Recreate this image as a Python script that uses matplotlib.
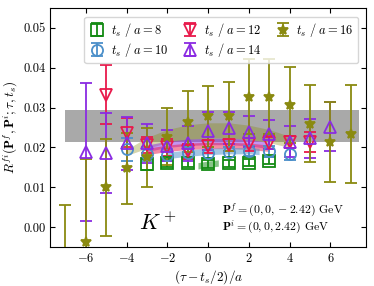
import matplotlib
matplotlib.use('Agg')
import matplotlib.pyplot as plt
import numpy as np

plt.rcParams['font.family'] = 'serif'
plt.rcParams['font.serif'] = ['cmr10']
plt.rcParams['mathtext.fontset'] = 'cm'
plt.rcParams['axes.unicode_minus'] = False
plt.rcParams['axes.formatter.use_mathtext'] = True

# data points per source-sink separation
x8 = [-3, -2, -1, 0, 1, 2, 3]
y8 = [0.0158, 0.0161, 0.0160, 0.0158, 0.0160, 0.0162, 0.0167]
e8 = [0.0014, 0.0010, 0.0010, 0.0010, 0.0009, 0.0009, 0.0009]

x10 = [-4, -3, -2, -1, 0, 1, 2, 3, 4]
y10 = [0.0195, 0.0183, 0.0181, 0.0186, 0.0187, 0.0188, 0.0191, 0.0190, 0.0183]
e10 = [0.0030, 0.0017, 0.0015, 0.0014, 0.0013, 0.0013, 0.0013, 0.0013, 0.0015]

x12 = [-5, -4, -3, -2, -1, 0, 1, 2, 3, 4, 5]
y12 = [0.0332, 0.0237, 0.0206, 0.0200, 0.0190, 0.0203, 0.0206, 0.0208, 0.0212, 0.0213, 0.0214]
e12 = [0.0074, 0.0037, 0.0020, 0.0022, 0.0018, 0.0016, 0.0016, 0.0016, 0.0016, 0.0015, 0.0025]

x14 = [-6, -5, -4, -3, -2, -1, 0, 1, 2, 3, 4, 5, 6]
y14 = [0.0188, 0.0187, 0.0210, 0.0210, 0.0204, 0.0210, 0.0241, 0.0248, 0.0239, 0.0233, 0.0214, 0.0223, 0.0252]
e14 = [0.0173, 0.0100, 0.0067, 0.0048, 0.0039, 0.0043, 0.0047, 0.0040, 0.0039, 0.0037, 0.0039, 0.0049, 0.0061]

x16 = [-7, -6, -5, -4, -3, -2, -1, 0, 1, 2, 3, 4, 5, 6, 7]
y16 = [-0.0080, -0.0037, 0.0100, 0.0148, 0.0175, 0.0227, 0.0265, 0.0278, 0.0278, 0.0327, 0.0327, 0.0306, 0.0260, 0.0213, 0.0234]
e16 = [0.0136, 0.0207, 0.0121, 0.0089, 0.0075, 0.0072, 0.0076, 0.0076, 0.0087, 0.0094, 0.0094, 0.0095, 0.0096, 0.0100, 0.0122]

# fit bands
bx16 = [-4, -3, -2, -1, 0, 1, 2, 3, 4]
bup16 = [0.0195, 0.0225, 0.0245, 0.0257, 0.0262, 0.0262, 0.0256, 0.0245, 0.0228]
blo16 = [0.0180, 0.0198, 0.0212, 0.0220, 0.0224, 0.0224, 0.0220, 0.0212, 0.0200]

bx14 = [-3, -2, -1, 0, 1, 2, 3]
bc14 = [0.0198, 0.0208, 0.0213, 0.0215, 0.0215, 0.0212, 0.0205]
bx12 = [-3, -2, -1, 0, 1, 2, 3]
bc12 = [0.0190, 0.0198, 0.0203, 0.0205, 0.0205, 0.0203, 0.0198]
bx10 = [-2, -1, 0, 1, 2, 2.5]
bc10 = [0.0180, 0.0186, 0.0190, 0.0192, 0.0192, 0.0190]
bx8 = [-0.5, 0, 0.5]
bc8 = [0.0154, 0.0158, 0.0161]
band_hw = 0.0008

# final extracted value
gray_x = [-7.0, 7.4]
gray_lo = 0.02125
gray_hi = 0.0295

col8 = '#138a13'
col10 = '#4b8fc9'
col12 = '#e8194b'
col14 = '#8a2be2'
col16 = '#8a8a10'

fig = plt.figure(figsize=(3.74, 2.86), dpi=100)
ax = fig.add_axes([0.134, 0.136, 0.845, 0.836])

ax.fill_between(gray_x, gray_lo, gray_hi, color='#8c8c8c', alpha=0.75, lw=0, zorder=1)

ax.fill_between(bx16, blo16, bup16, color=col16, alpha=0.35, lw=0, zorder=2)
for bx, bc, c in [(bx14, bc14, col14), (bx12, bc12, col12), (bx10, bc10, col10), (bx8, bc8, col8)]:
    bc = np.array(bc)
    ax.fill_between(bx, bc - band_hw, bc + band_hw, color=c, alpha=0.5, lw=0, zorder=2)

series = [
    (x8, y8, e8, 's', col8, 'none', r'$t_s\ /\ a = 8$'),
    (x10, y10, e10, 'o', col10, 'none', r'$t_s\ /\ a = 10$'),
    (x12, y12, e12, 'v', col12, 'none', r'$t_s\ /\ a = 12$'),
    (x14, y14, e14, '^', col14, 'none', r'$t_s\ /\ a = 14$'),
    (x16, y16, e16, '*', col16, col16, r'$t_s\ /\ a = 16$'),
]
for xs, ys, es, m, c, fc, lab in series:
    ax.errorbar(xs, ys, yerr=es, fmt=m, color=c, mfc=fc, mec=c, ms=8 if m != '*' else 7,
                mew=1.3, elinewidth=1.3, capsize=4.5, capthick=1.3, label=lab, zorder=3)

ax.set_xlim(-7.75, 7.75)
ax.set_ylim(-0.005, 0.055)
ax.set_xticks([-6, -4, -2, 0, 2, 4, 6])
ax.set_yticks([0.0, 0.01, 0.02, 0.03, 0.04, 0.05])
ax.set_yticklabels(['0.00', '0.01', '0.02', '0.03', '0.04', '0.05'])
ax.tick_params(direction='in', top=True, right=True, labelsize=9)

ax.set_xlabel(r'$(\tau - t_s/2)/a$', fontsize=9.5, labelpad=2)
ax.set_ylabel(r'$R^{fi}(\mathbf{P}^f, \mathbf{P}^i; \tau, t_s)$', fontsize=9.5, labelpad=2)

ax.text(-2.5, 0.001, r'$K^+$', fontsize=16, ha='center', va='center')
ax.text(0.7, 0.0043, r'$\mathbf{P}^f = (0, 0, -2.42)$ GeV', fontsize=8.5, va='center')
ax.text(0.7, 0.0000, r'$\mathbf{P}^i = (0, 0, 2.42)$ GeV', fontsize=8.5, va='center')

ax.legend(loc='upper right', ncol=3, fontsize=9, handletextpad=0.4, columnspacing=1.0,
          labelspacing=0.15, borderpad=0.35, handlelength=1.4, bbox_to_anchor=(0.995, 0.99))

fig.savefig('out.png', dpi=100)
